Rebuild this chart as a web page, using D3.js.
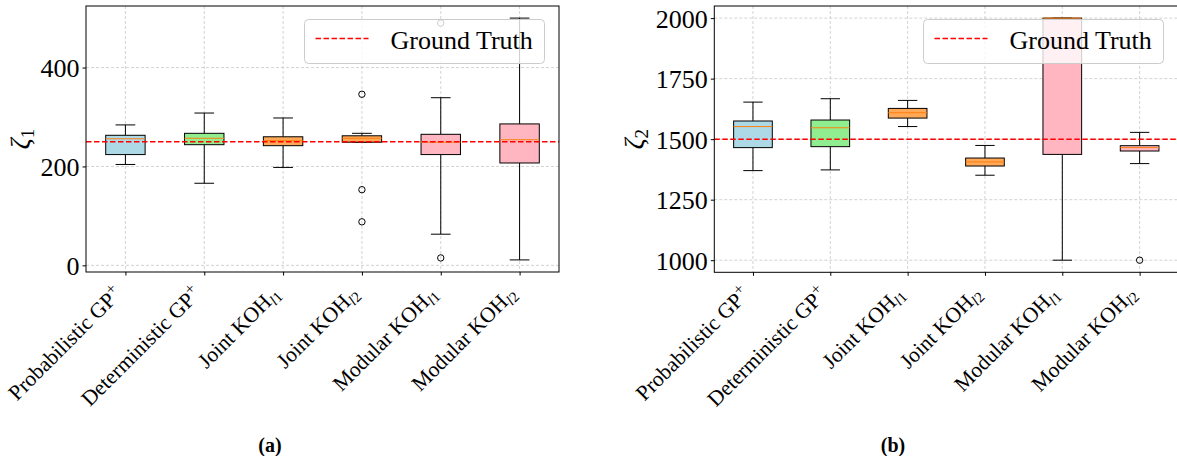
<!DOCTYPE html>
<html><head><meta charset="utf-8">
<script src="https://cdn.jsdelivr.net/npm/d3@7"></script>
<style>body{margin:0;background:#fff} svg{display:block}</style>
</head><body>
<svg id="chart" width="1177" height="456"></svg>
<script>
const categories = ["Probabilistic GP", "Deterministic GP", "Joint KOH", "Joint KOH", "Modular KOH", "Modular KOH"];
const categoryScripts = ["+", "+", "l1", "l2", "l1", "l2"];
const scriptKinds = ["sup", "sup", "sub", "sub", "sub", "sub"];
const boxColors = ["#add8e6", "#90ee90", "#ffa857", "#ffa857", "#ffb6c1", "#ffb6c1"];

const zeta1Low     = [204, 166, 198, 249, 63, 11];
const zeta1Q1      = [224, 244, 242, 249, 224, 207];
const zeta1Median  = [256, 257, 252, 257, 249, 254];
const zeta1Q3      = [263, 267, 260, 262, 265, 286];
const zeta1High    = [284, 308, 298, 267, 339, 500];
const zeta1Outliers = [[], [], [], [346, 153, 88], [490, 15], []];
const zeta1Ticks = [0, 200, 400];
const zeta1Truth = 250;

const zeta2Low     = [1370, 1373, 1552, 1351, 1000, 1399];
const zeta2Q1      = [1465, 1469, 1587, 1389, 1437, 1451];
const zeta2Median  = [1552, 1547, 1609, 1406, 2000, 1465];
const zeta2Q3      = [1575, 1579, 1627, 1422, 2000, 1473];
const zeta2High    = [1653, 1667, 1660, 1474, 2000, 1528];
const zeta2Outliers = [[], [], [], [], [], [1000]];
const zeta2Ticks = [1000, 1250, 1500, 1750, 2000];
const zeta2Truth = 1500;

const legendLabel = "Ground Truth";
const panelLetters = ["(a)", "(b)"];

const FONT = "'Liberation Serif', 'Times New Roman', 'DejaVu Serif', serif";
const svg = d3.select("#chart");

function drawPanel(opt) {
  const {left, right, top, bottom, low, q1, med, q3, high, outliers, ticks, truth, sub, legend, letterX, letter, ylabelX} = opt;
  const g = svg.append("g");
  const positions = categories.map((c, i) => i + 1);
  const all = low.concat(high, outliers.flat());
  const dmin = d3.min(all), dmax = d3.max(all);
  const m = (dmax - dmin) * 0.05;
  const x = d3.scaleLinear().domain([0.5, 6.5]).range([left, right]);
  const y = d3.scaleLinear().domain([dmin - m, dmax + m]).range([bottom, top]);

  // grid
  const grid = g.append("g").attr("stroke", "#c8c8c8").attr("stroke-width", 0.8).attr("stroke-dasharray", "3,2");
  grid.selectAll("line.h").data(ticks).join("line")
    .attr("x1", left).attr("x2", right).attr("y1", d => y(d)).attr("y2", d => y(d));
  grid.selectAll("line.v").data(positions).join("line")
    .attr("x1", d => x(d)).attr("x2", d => x(d)).attr("y1", top).attr("y2", bottom);

  // boxes
  const bw = 0.5, cw = 0.25;
  const bx = g.append("g");
  positions.forEach((p, i) => {
    bx.append("line").attr("x1", x(p)).attr("x2", x(p)).attr("y1", y(q1[i])).attr("y2", y(low[i])).attr("stroke", "#000").attr("stroke-width", 1);
    bx.append("line").attr("x1", x(p)).attr("x2", x(p)).attr("y1", y(q3[i])).attr("y2", y(high[i])).attr("stroke", "#000").attr("stroke-width", 1);
    bx.append("line").attr("x1", x(p - cw / 2)).attr("x2", x(p + cw / 2)).attr("y1", y(low[i])).attr("y2", y(low[i])).attr("stroke", "#000").attr("stroke-width", 1);
    bx.append("line").attr("x1", x(p - cw / 2)).attr("x2", x(p + cw / 2)).attr("y1", y(high[i])).attr("y2", y(high[i])).attr("stroke", "#000").attr("stroke-width", 1);
    bx.append("rect").attr("x", x(p - bw / 2)).attr("width", x(p + bw / 2) - x(p - bw / 2))
      .attr("y", y(q3[i])).attr("height", Math.max(0, y(q1[i]) - y(q3[i])))
      .attr("fill", boxColors[i]).attr("stroke", "#000").attr("stroke-width", 1);
    bx.append("line").attr("x1", x(p - bw / 2)).attr("x2", x(p + bw / 2)).attr("y1", y(med[i])).attr("y2", y(med[i]))
      .attr("stroke", "#ff7f0e").attr("stroke-width", 1);
    outliers[i].forEach(o => {
      bx.append("circle").attr("cx", x(p)).attr("cy", y(o)).attr("r", 3.2).attr("fill", "none").attr("stroke", "#000").attr("stroke-width", 1);
    });
  });

  // truth line
  g.append("line").attr("x1", left).attr("x2", right).attr("y1", y(truth)).attr("y2", y(truth))
    .attr("stroke", "red").attr("stroke-width", 1.5).attr("stroke-dasharray", "5.5,2.5");

  // spines
  g.append("rect").attr("x", left).attr("y", top).attr("width", right - left).attr("height", bottom - top)
    .attr("fill", "none").attr("stroke", "#000").attr("stroke-width", 1);

  // y axis
  const ya = g.append("g").attr("transform", `translate(${left},0)`)
    .call(d3.axisLeft(y).tickValues(ticks).tickSize(3.5).tickPadding(3).tickFormat(d3.format("d")));
  ya.select(".domain").remove();
  ya.selectAll("text").attr("font-family", FONT).attr("font-size", 26).attr("fill", "#000").attr("dy", "0.35em");

  // x axis
  const xa = g.append("g").attr("transform", `translate(0,${bottom})`)
    .call(d3.axisBottom(x).tickValues(positions).tickSize(3.5).tickFormat(""));
  xa.select(".domain").remove();
  positions.forEach((p, i) => {
    const t = g.append("text").attr("font-family", FONT).attr("font-size", 21.5).attr("fill", "#000")
      .attr("text-anchor", "end")
      .attr("transform", `translate(${x(p) - 2},${bottom + 23}) rotate(-45)`);
    t.append("tspan").text(categories[i]);
    if (scriptKinds[i] === "sup") {
      t.append("tspan").attr("dy", "-0.5em").attr("font-size", 16).text(categoryScripts[i]);
    } else {
      const s = categoryScripts[i];
      t.append("tspan").attr("dy", "0.25em").attr("font-size", 15).attr("font-style", "italic").text(s[0]);
      t.append("tspan").attr("font-size", 15).text(s.slice(1));
    }
  });

  // y label
  const yl = g.append("text").attr("font-family", FONT).attr("font-size", 27).attr("fill", "#000")
    .attr("text-anchor", "middle")
    .attr("transform", `translate(${ylabelX},${(top + bottom) / 2}) rotate(-90)`);
  yl.append("tspan").attr("font-style", "italic").text("ζ");
  yl.append("tspan").attr("dy", "0.25em").attr("font-size", 19).text(sub);

  // legend
  const lg = g.append("g");
  lg.append("rect").attr("x", legend.x).attr("y", legend.y).attr("width", legend.w).attr("height", legend.h)
    .attr("rx", 4).attr("fill", "#fff").attr("fill-opacity", 0.8).attr("stroke", "#cccccc").attr("stroke-width", 1);
  lg.append("line").attr("x1", legend.x + 11).attr("x2", legend.x + 64).attr("y1", legend.y + 19).attr("y2", legend.y + 19)
    .attr("stroke", "red").attr("stroke-width", 1.5).attr("stroke-dasharray", "5.5,2.5");
  lg.append("text").attr("x", legend.x + 86).attr("y", legend.y + 29).attr("font-family", FONT).attr("font-size", 26)
    .attr("fill", "#000").text(legendLabel);

  svg.append("text").attr("x", letterX).attr("y", 452).attr("text-anchor", "middle").attr("font-family", FONT)
    .attr("font-weight", "bold").attr("font-size", 20).attr("fill", "#000").text(letter);
}

drawPanel({left: 86, right: 559, top: 6, bottom: 272, low: zeta1Low, q1: zeta1Q1, med: zeta1Median, q3: zeta1Q3,
  high: zeta1High, outliers: zeta1Outliers, ticks: zeta1Ticks, truth: zeta1Truth, sub: "1",
  legend: {x: 304.5, y: 19.5, w: 240, h: 44}, letterX: 270, letter: panelLetters[0], ylabelX: 29});
drawPanel({left: 714.3, right: 1178.3, top: 6, bottom: 272.3, low: zeta2Low, q1: zeta2Q1, med: zeta2Median, q3: zeta2Q3,
  high: zeta2High, outliers: zeta2Outliers, ticks: zeta2Ticks, truth: zeta2Truth, sub: "2",
  legend: {x: 923.5, y: 19.5, w: 240, h: 44}, letterX: 893, letter: panelLetters[1], ylabelX: 643});
</script>
</body></html>
